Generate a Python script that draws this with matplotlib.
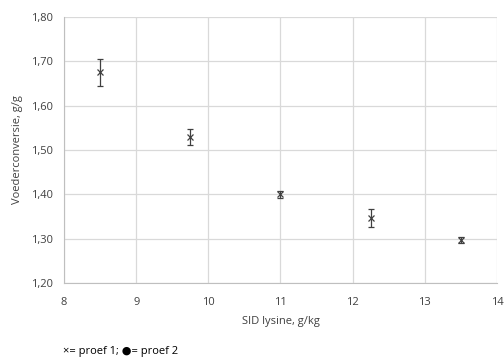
import matplotlib
matplotlib.use("Agg")
import matplotlib.pyplot as plt

# data
lysine = [8.5, 9.75, 11.0, 12.25, 13.5]
fcr = [1.675, 1.530, 1.400, 1.347, 1.297]
fcr_err = [0.030, 0.018, 0.008, 0.020, 0.006]

x_ticks = [8, 9, 10, 11, 12, 13, 14]
y_ticks = [1.20, 1.30, 1.40, 1.50, 1.60, 1.70, 1.80]

plt.rcParams['font.family'] = ['Open Sans', 'DejaVu Sans']

fig = plt.figure(figsize=(5.04, 3.58), dpi=100)
ax = fig.add_axes([0.127, 0.2095, 0.859, 0.743])

ax.errorbar(lysine, fcr, yerr=fcr_err, fmt='x', color='#404040',
            ecolor='#404040', elinewidth=0.9, capsize=2.5, capthick=0.9,
            markersize=5, markeredgewidth=0.9, zorder=3)

ax.set_xlim(8, 14)
ax.set_ylim(1.20, 1.80)
ax.set_xticks(x_ticks)
ax.set_yticks(y_ticks)
ax.set_yticklabels([f"{v:.2f}".replace('.', ',') for v in y_ticks])
ax.grid(True, color='#d9d9d9', linewidth=0.9)
ax.set_axisbelow(True)

for side in ['top', 'right']:
    ax.spines[side].set_visible(False)
ax.spines['left'].set_color('#bfbfbf')
ax.spines['bottom'].set_color('#bfbfbf')
ax.tick_params(length=0, labelsize=8, colors='#404040')
ax.tick_params(axis='x', pad=10)
ax.tick_params(axis='y', pad=8)

ax.set_xlabel('SID lysine, g/kg', fontsize=8, color='#404040', labelpad=6)
ax.set_ylabel('Voederconversie, g/g', fontsize=8, color='#404040', labelpad=6)

fig.text(0.125, 0.012, '\u00d7= proef 1; \u25cf= proef 2', fontsize=8,
         color='#000000')

fig.savefig('out.png', dpi=100)
